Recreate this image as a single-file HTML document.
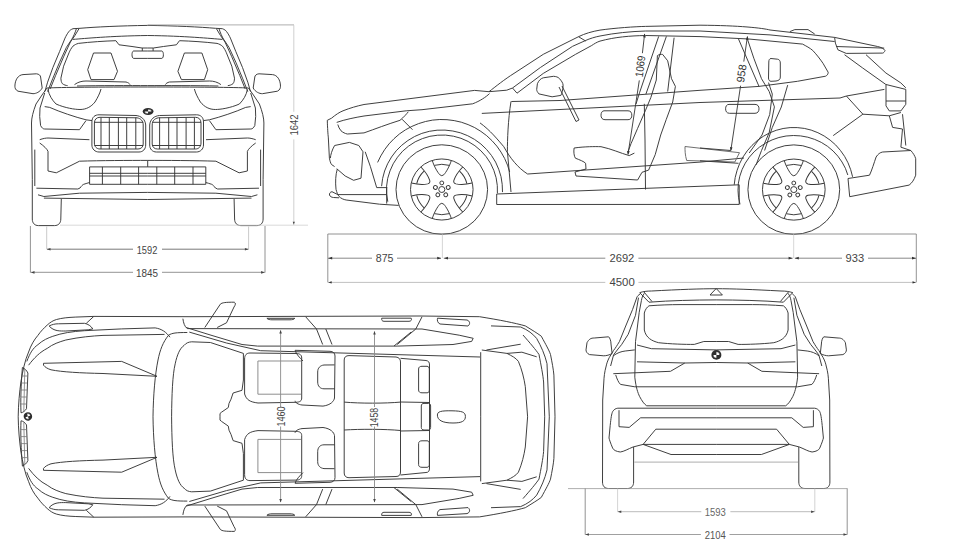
<!DOCTYPE html>
<html><head><meta charset="utf-8">
<style>
html,body{margin:0;padding:0;background:#fff;width:967px;height:546px;overflow:hidden}
svg{display:block}
text{font-family:"Liberation Sans",sans-serif;font-size:10.5px;fill:#444}
</style></head><body>
<svg width="967" height="546" viewBox="0 0 967 546">
<defs>
<g id="wheel" fill="none" stroke="#363636" stroke-width="0.95">
  <circle r="44.8"/>
  <circle r="30.6"/>
  <circle r="3"/>
  <g id="bolt"><circle cx="0" cy="-6.6" r="1.9"/></g>
  <use href="#bolt" transform="rotate(72)"/>
  <use href="#bolt" transform="rotate(144)"/>
  <use href="#bolt" transform="rotate(216)"/>
  <use href="#bolt" transform="rotate(288)"/>
  <g id="hole"><path d="M-9.3,-29 C-7.5,-23 -4,-17 -2,-14.8 Q0,-12.8 2,-14.8 C4,-17 7.5,-23 9.3,-29"/><path d="M-7.2,-24.2 Q0,-26.3 7.2,-24.2"/></g>
  <use href="#hole" transform="rotate(60)"/>
  <use href="#hole" transform="rotate(120)"/>
  <use href="#hole" transform="rotate(180)"/>
  <use href="#hole" transform="rotate(240)"/>
  <use href="#hole" transform="rotate(300)"/>
</g>
<g id="logo">
  <circle r="5" fill="#2e2e2e"/>
  <path d="M0,0 L0,-3.2 A3.2,3.2 0 0 1 3.2,0 Z M0,0 L0,3.2 A3.2,3.2 0 0 1 -3.2,0 Z" fill="#fff"/>
  <circle r="3.3" fill="none" stroke="#2e2e2e" stroke-width="0.5"/>
</g>
</defs>

<!-- FRONT VIEW left half -->
<g id="fl" fill="none" stroke="#363636" stroke-width="0.95" stroke-linejoin="round">
  <path d="M147.7,25.4 C120,25.8 95,27 80,28.3 L73,28.7 C71,29.5 69.5,30.5 69,31.4 C67,34 66,36 65,38.1 L59.6,51.5 L52.9,67.5 L47.6,82.2 L44.9,91.6"/>
  <path d="M79,28.7 C77.5,31 76.5,33 75,35.4 L70.4,42 L63.6,56.8 L55.6,75.5 L50.2,88.9"/>
  <path d="M76.4,28.7 C75,33 73.5,36.5 71.7,39.4 L66.4,47.4 L59.6,62.2 L52.9,78.2 L47.6,91.6"/>
  <path d="M73,39.4 C85,38.5 110,36 147.7,35.5"/>
  <path d="M78.4,43.4 C76,44 74.5,45 73,46.1 C71,48.5 70,50.5 69,52.8 L63.6,66.2 L60.9,78.2 C61,81 61.5,82.5 62.3,83.6 C64,85 66,85.5 67.6,85.6"/>
  <path d="M78.4,43.4 C90,42 105,41 115.9,40.7 L119,44.8 L132,46.5 L142,48 L147.7,48"/>
  <path d="M77,86 C100,85.5 130,85.6 147.7,85.6"/>
  <path d="M133.5,51 L147.7,51 M133.5,51 C131.5,51.5 131.5,58 133.5,58.4 L147.7,58.4 M142.3,48 V51"/>
  <path d="M93.5,53 L111,53 L117.5,71.3 L114,79.6 L91,79.6 L87.7,69.7 Z"/>
  <path d="M74.5,84.6 C78,82 82,81 86,81 L126,82 C128,82.5 129.5,83.5 130,84.6"/>
  <path d="M47,88 C60,87.3 100,87 147.7,87"/>
  <path d="M14.9,86.2 C15,80 18,75 23,74.6 L36.4,73.8 C39,74 40.5,75.5 40.6,77 L42.2,88 C40,92 36,93.7 33,93.7 L18,91.2 C15.5,90 14.9,88 14.9,86.2 Z"/>
  <path d="M48,89.5 C49,95 52,100 56,104 C65,108 75,109.5 80,109.5 C86,109.5 91,107 95,102 C98,97 100,93 101,89"/>
  <path d="M44.7,106.6 L49.7,107.4 C60,112 75,117 86,119.8 L92,120.6"/>
  <path d="M39.7,116.5 L40.6,125.6 C42,128 43,129 44.7,129 L79.5,129.7 L86,120.6"/>
  <path d="M47,88 L42,95 L36,104 C33,112 31.5,118 31.5,123 L32.3,179.4 L32.3,219 C32.3,223 34.5,225.6 38.5,225.6 L54.5,225.6 C58.5,225.6 60.8,223 60.8,219 L61.3,199"/>
  <path d="M44.7,93 L40,108 L39.7,116.5"/>
  <path d="M34.8,149.6 L34.8,186"/>
  <path d="M39.7,139.7 C43,138.5 46,138 48,138 L89.4,139.7"/>
  <path d="M39.7,143 C44,146 47,149 48,151.3 L48,171 L56.3,172.8 L79.5,161.2 C100,160.5 130,160.4 147.7,160.4"/>
  <path d="M36.4,188.2 L77.8,189 L80,188 C81.5,186 82.5,184.8 83.7,184.3 C86,183.5 88,183 89.6,182.5"/>
  <path d="M38,194.8 L43.9,196.5 L79.5,193.2 L147.7,192.4"/>
  <path d="M43.9,198.1 L147.7,199.5"/>
  <path d="M99,114.8 L136,115.5 C141,116 145.2,119 145.7,125 L145.7,145 C145.7,149 143,152 139,152 L99,152 C95,152 91.9,149 91.9,145 L91.9,122 C91.9,117 95,114.8 99,114.8 Z"/>
  <path d="M100,117.3 L137,117.8 C141,118.5 143.2,121 143.2,125 L143.2,144 C143.2,147 141,149 138,149 L100,149 C96.5,149 94.4,146.5 94.4,143 L94.4,123 C94.4,119.5 96.5,117.3 100,117.3 Z"/>
  <path d="M101,117.5 V149 M109.3,117.5 V149 M118.4,117.5 V149 M126.7,117.5 V149 M135.8,117.5 V149 M94.4,122.3 H143.2 M94.4,145.5 H143.2"/>
  <path d="M89.6,166.9 H147.7 M89.6,173.3 H147.7 M89.6,176 H147.7 M89.6,184.3 H147.7 M89.6,166.9 V184.3 M102.4,166.9 V184.3 M120.7,166.9 V184.3 M138.6,166.9 V184.3"/>
</g>
<use href="#fl" transform="matrix(-1 0 0 1 295.4 0)"/>
<use href="#logo" transform="translate(148.1,111.5) scale(1.08,0.68)"/>
<path d="M147.7,160.4 V166.9" stroke="#363636" stroke-width="0.95"/>

<!-- front dims -->
<g fill="none" stroke-width="0.8">
  <path d="M60,225.2 H308" stroke="#d0d0d0"/>
  <path d="M147.7,24.9 H294" stroke="#999"/>
  <path d="M293.8,25.2 V111.8 M293.8,139.4 V225" stroke="#c4c4c4"/>
  <path d="M30.4,226 V272.6 M265,226 V272.6" stroke="#777"/>
  <path d="M46.7,226.5 V249.3 M248.6,226.5 V249.3" stroke="#bbb"/>
  <path d="M47,249.2 H133 M162,249.2 H248.4" stroke="#555"/>
  <path d="M30.6,272.3 H133 M162,272.3 H264.8" stroke="#777"/>
</g>
<g fill="#444">
  <path d="M293.8,224.5 l-1.1,-2.8 h2.2z"/>
  <path d="M47,249.3 l3.5,-1.3 v2.6z M248.4,249.3 l-3.5,-1.3 v2.6z"/>
  <path d="M31,272.4 l3.5,-1.3 v2.6z M264.6,272.4 l-3.5,-1.3 v2.6z"/>
</g>
<text lengthAdjust="spacingAndGlyphs" x="147" y="253.6" text-anchor="middle" textLength="20.6" style="font-size:11.6px">1592</text>
<text lengthAdjust="spacingAndGlyphs" x="147" y="276.7" text-anchor="middle" textLength="22" style="font-size:11.6px">1845</text>
<text lengthAdjust="spacingAndGlyphs" transform="translate(297.8,125) rotate(-90)" text-anchor="middle" textLength="21.1" style="font-size:10.2px">1642</text>

<!-- SIDE VIEW -->
<g fill="none" stroke="#363636" stroke-width="0.95" stroke-linejoin="round">
  <path d="M489,91.7 C495,87 505,79 514,73.4 L543.3,54.3 L578.5,36.7 C585,33.5 592,31.5 600,30.1 C615,28 635,26.6 645.6,26.4 L700,25.2 C740,25.5 762,28 770,30 L834.6,37.4 L877.6,46.5 C881,47.3 884,48.5 885,50.6 C884.5,52 883.5,53 882.6,53.1 L846.2,53.4 L837.9,49.8 L835.4,43.1 L834.6,37.4 M836.2,46.5 L884.2,48.1"/>
  <path d="M512.5,88 L540.4,67.5 L572.6,46.3 L585.8,40.4 C590,38.5 595,37 600,36 C615,33 630,31.5 645.6,31 L700,31 L770,34.9 L834.6,41.5"/>
  <path d="M517,93.2 L543.3,73.4 L575.6,54.3 L591.7,45.5 C594,44 597,42 600,41.1 C615,37 630,35.8 645.6,35.5 L700,36.6 L748.7,39 L802.6,44.1 C806,46 810,48 812.8,50.5 C817,55 820,59 823,63.3 L828.2,72.3 C828,74.5 827,75.5 825.6,76.2 L797.4,81.3 L759,86.4"/>
  <path d="M578.5,36.7 L585.8,41.1 M489,91.7 L506.7,90.2 L512.5,88 L517,93.2 M789.9,31.6 L794.8,29.6 L808,29.6 L814.7,34"/>
  <path d="M560,100.5 L700,90.3 L759,86.4 M511.4,101.5 L560,100.5"/>
  <path d="M481.8,113.4 L560,109.5 L700,102.5 L840,98 L846.4,96 L884.4,89.4"/>
  <path d="M327.3,120.3 L331.5,118.2 C336,114.5 339,112.5 343,110.8 C350,108 357,106 364,104.5 L422,97.1 L474.6,90.4 L489,91.7"/>
  <path d="M336.7,122.4 C345,119.5 355,117.5 364,116 L406.2,110.8 L422,109.7 L472.7,103.8 C480,101 486,97 489.5,93.6"/>
  <path d="M337.8,124.5 C338.5,127 339.5,129 341,130.8 C343,132.5 345,133.5 347.3,134 L364,132.9 C375,129 388,124 400,120.3 C404,117 406.5,114 408.3,111.8"/>
  <path d="M402,119.2 L412.5,129.7"/>
  <path d="M327.3,120.3 C327.5,128 328,135 328.3,137.1 L329.4,158.2 C330,161 330.5,163 331.5,164.5 L334.6,166.6 M334.6,145.5 C332,150 330.5,155 330.4,158.2"/>
  <path d="M334.6,145.5 L349.4,142.4 L358.8,145.5 L363,151.8 L361,178.2 L353.6,180.3 L345.2,176 L336.7,168.7"/>
  <path d="M332,191.7 C330,192 329.3,193.5 329.5,195 C330,196.5 331.5,197.3 333.5,197.5 L339,197.8 M332,191.7 C334,192.5 336,194 337.9,194.6 L386.7,194.6 M337.3,169 C335.5,175 335.3,182 336,189.3 C336.8,192.5 337.8,194.8 339,196.4 C341,198.5 343.5,199.5 346.2,200 L379.5,204.2 L398.6,205.4 M386.7,188.1 L386.7,203.6"/>
  <path d="M365.2,151.8 L370.4,166.6 L376.7,187.6 L387.3,187.6"/>
  <path d="M537.4,83.7 C539,80 541,78.5 543.3,77.8 L553.6,76.3 C556,76.5 558,77 559.4,78.5 C561.5,81 563,83 563.1,85.1 C563,90 562,93 560.9,95.4 L552.1,96.8 L538.9,93.9 C537.5,92 536.7,91 536.7,89.5 Z"/>
  <path d="M559,87 L576,121.5 L579,120 L562,86"/>
  <path d="M511,101.4 C508,120 507.4,140 507.4,151.4 L511,192"/>
  <path d="M480,122.9 C490,130 498,140 503.8,146.7 C510,158 518,168 527.6,174 L700,162.1 L744,158"/>
  <path d="M496.7,194 L739.2,184.8 M496.7,204.5 L739.2,204.4 M496.7,194 V204.5 M739.2,184.8 V204.4"/>
  <path d="M604,110.8 L628,110.8 C631,110.8 631.8,113 631.8,115.2 C631.8,117.5 631,119.7 628,119.7 L605,119.7 C602,119.7 601,117.5 601,115.2 C601,113 602,110.8 604,110.8 Z"/>
  <path d="M729,104.4 L755,104.4 C758,104.4 759,106.5 759,108.8 C759,111 758,113.3 755,113.3 L729.5,113.3 C726.5,113.3 725.6,111 725.6,108.8 C725.6,106.5 726.5,104.4 729,104.4 Z"/>
  <path d="M658.7,36.4 L639.5,92.8 L636,104 M666.4,36.4 L645.9,94.1 M644.3,103.8 L645,140 L645.5,189.5 M674.1,37.7 L667.7,91.5"/>
  <path d="M657.4,55.6 C659,54.5 661,54.2 662.6,54.4 L667.7,60.8 L671.5,78.7 L675.4,86.4 L672.7,102 L666.2,119.6 L660.7,135 L655.2,154.7 L648.6,170.1"/>
  <path d="M657.4,55.6 L656.3,80 L650.8,97.6 L645.3,110.8 L637.6,128.4 L631,143.7 L627.7,152.5"/>
  <path d="M574.1,148 C585,146.5 595,146.5 601,146.7 C612,149 620,153 629.2,155.6 L634.4,153.1 M574.1,148 C573.5,152 574,156 575.4,158.2 C580,160 584,161.5 585.6,163.3 L586,169 L575,172 L576,176 L637.6,180 L642,172.3 L648.6,170.1"/>
  <path d="M747.4,39 L753.8,58.2 L761.5,78.7 L769.2,91.5 L774.4,106.9 L769.2,132.6 L761.5,150.5 L756,165 M738.5,39 L759,86.4"/>
  <path d="M771,58.5 L777.5,59.2 C779.5,59.5 780.3,61 780.3,63 L780.3,77 C780.3,79.5 779,80.5 776,81 L771,81.3 C769.5,81.3 768.5,80 768.5,78 L768.8,62 C768.8,60 769.5,58.5 771,58.5 Z"/>
  <path d="M768.5,82.6 L772.3,94.1 L769.7,114.6 L762,135 L749.2,153 M787.7,85.1 L781.3,107 L772.3,127.4 L764.6,150.5"/>
  <path d="M685,146.5 L739.5,152.7 L734.8,162 L686.7,160.5 C685,155 685,150 685,146.5" stroke="#666"/>
  <path d="M700,148 L730.8,150.5 M700,160.8 L738.5,163.3"/>
  <path d="M844.5,54.7 L862.7,68 L885.9,84.5 M866,54.7 L885.9,73 L900.8,82.9 L905.8,87.8"/>
  <path d="M886,84.5 L905.8,89.4 L905.8,104.3 L900.9,110.9 L889.3,110.9 L886,105.9 Z M886,101 L905.8,101"/>
  <path d="M846.4,96 L862.9,114.2 L889.3,115.8 L900.9,112.5 M862.9,114.2 L833.2,135.6"/>
  <path d="M889.3,115.8 L892.6,127.4 L902.5,129 L900.9,147.2 M902.5,114.2 L905.8,145.5"/>
  <path d="M900.9,147.2 L910.8,150.5 C913,153 915,156 915.7,158.7 L915.7,175.2 C914,180 912,183 909.1,185.1 L849.7,196.7 L848,178.5 L869.5,175.2 C872,170 874,163 876.1,157 C878,154 880,152.5 882.7,152 L910.8,150.5"/>
</g>
<g fill="none" stroke="#363636" stroke-width="0.95">
  <path d="M377.6,162.4 L380.8,155.9 L384.6,149.7 L389.0,143.9 L394.0,138.7 L399.5,133.9 L405.5,129.8 L411.9,126.4 L418.6,123.6 L425.5,121.5 L432.6,120.1 L439.8,119.5 L447.0,119.7 L454.2,120.6 L461.3,122.2 L468.1,124.6 L474.7,127.6 L480.9,131.4 L486.7,135.7 L492.0,140.7 L496.8,146.1 L501.0,152.1 L504.6,158.4 L507.5,165.1 L509.7,172.0"/>
  <path d="M381.6,186.2 L382.6,178.5 L384.6,171.0 L387.6,163.8 L391.5,157.0 L396.2,150.8 L401.7,145.3 L407.9,140.5 L414.6,136.5 L421.8,133.4 L429.4,131.3 L437.1,130.2 L445.0,130.1 L452.8,131.0 L460.4,132.8 L467.7,135.7 L474.5,139.4 L480.9,144.0 L486.5,149.4 L491.5,155.5 L495.6,162.1 L498.7,169.2 L501.0,176.6 L502.2,184.3 L502.5,192.1"/>
  <path d="M387.8,201.7 L386.6,194.0 L386.6,186.1 L387.7,178.4 L390.0,170.9 L393.2,163.8 L397.5,157.2 L402.6,151.2 L408.6,146.1 L415.2,141.8 L422.4,138.6 L429.9,136.3 L437.7,135.2 L445.6,135.1 L453.4,136.2 L461.0,138.3 L468.2,141.5 L474.9,145.7 L480.9,150.8 L486.1,156.6 L490.5,163.2 L493.8,170.3 L496.1,177.7 L497.3,185.5 L497.4,193.3"/>
  <path d="M734.2,184.8 L735.2,177.5 L737.1,170.3 L739.7,163.4 L743.1,156.9 L747.2,150.9 L752.0,145.4 L757.3,140.5 L763.2,136.4 L769.5,132.9 L776.2,130.3 L783.1,128.5 L790.1,127.6 L797.2,127.6 L804.3,128.4 L811.2,130.1 L817.9,132.7 L824.2,136.0 L830.1,140.1 L835.6,144.9 L840.4,150.4 L844.6,156.4 L848.0,162.8 L850.7,169.7 L852.6,176.8"/>
  <path d="M740.0,204.3 L738.5,197.3 L738.0,190.3 L738.4,183.2 L739.8,176.2 L742.1,169.5 L745.3,163.1 L749.3,157.2 L754.1,151.8 L759.5,147.1 L765.6,143.1 L772.1,139.9 L778.9,137.5 L786.1,136.0 L793.4,135.5 L800.6,135.9 L807.8,137.2 L814.7,139.4 L821.3,142.4 L827.5,146.3 L833.0,150.9 L837.9,156.2 L842.0,162.0 L845.4,168.3 L847.8,175.0"/>
</g>
<use href="#wheel" transform="translate(441.8,189.5) scale(1.022,0.998)"/>
<use href="#wheel" transform="translate(793.8,189.6) scale(1.024,0.998)"/>

<!-- side interior dims -->
<g fill="none" stroke="#333" stroke-width="0.9">
  <path d="M644.6,34 L642.4,53.2 M639.3,80.4 L628,154.4"/>
  <path d="M747.4,36.6 L743.8,61.6 M740.6,85.7 L730.8,150.5"/>
</g>
<path d="M644.7,33.5 l-1.6,3.8 l2.7,0.3z M628,154.8 l-0.9,-3.9 l2.7,0.3z M747.5,36 l-1.6,3.8 l2.7,0.3z M730.8,151 l-0.9,-3.9 l2.7,0.3z" fill="#333"/>
<text lengthAdjust="spacingAndGlyphs" transform="translate(644.1,66.8) rotate(-83.2)" text-anchor="middle" textLength="21.4" style="font-size:11px;fill:#333">1069</text>
<text lengthAdjust="spacingAndGlyphs" transform="translate(745.2,74) rotate(-82)" text-anchor="middle" textLength="18.3" style="font-size:11px;fill:#333">958</text>

<!-- side dims -->
<g fill="none" stroke-width="0.8">
  <path d="M327.8,234 H916.3" stroke="#777"/>
  <path d="M327.8,234 V282.4 M916.3,234 V282.4" stroke="#777"/>
  <path d="M442.4,234.3 V258 M793.7,234.3 V258" stroke="#ccc"/>
  <path d="M328,282.4 H605.3 M638.4,282.4 H916" stroke="#b0b0b0"/>
</g>
<g fill="none" stroke="#6a6a6a" stroke-width="0.8">
  <path d="M328,258.2 H372 M397,258.2 H441 M443.8,258.2 H605.3 M638.4,258.2 H792.6 M794.8,258.2 H842 M868,258.2 H916"/>
</g>
<g fill="#333">
  <path d="M328.2,258.2 l4,-1.4 v2.8z M441.2,258.2 l-4,-1.4 v2.8z M444,258.2 l4,-1.4 v2.8z M792.6,258.2 l-4,-1.4 v2.8z M794.8,258.2 l4,-1.4 v2.8z M916,258.2 l-4,-1.4 v2.8z M328.2,282.4 l3.5,-1.2 v2.4z M916,282.4 l-3.5,-1.2 v2.4z"/>
</g>
<text lengthAdjust="spacingAndGlyphs" x="384.6" y="262.2" text-anchor="middle" textLength="17.7" style="font-size:11.2px">875</text>
<text lengthAdjust="spacingAndGlyphs" x="621.9" y="262.1" text-anchor="middle" textLength="24.8" style="font-size:11.2px">2692</text>
<text lengthAdjust="spacingAndGlyphs" x="854.9" y="262" text-anchor="middle" textLength="18.6" style="font-size:11.2px">933</text>
<text lengthAdjust="spacingAndGlyphs" x="622.1" y="286.4" text-anchor="middle" textLength="25.3" style="font-size:11.4px">4500</text>

<!-- TOP VIEW top half -->
<g id="tt" fill="none" stroke="#363636" stroke-width="0.95" stroke-linejoin="round">
  <path d="M18.2,416.8 C18.3,405 19.5,392 21,381.2 C22.5,372 25,360 28.6,352 C31,345 34,340 37.9,335.4 C41,331 44,328 47.2,325.1 C50,322.5 53,320.5 56.5,319.5 C62,318 68,317.4 75.2,317.1 L93.8,316.4 L190,316.7 L420,316 L479.5,316.7 C500,320 515,323 525.3,325.9 C532,330 537,333 541.3,336.2 C546,345 549,350 550.5,354.5 C552,362 553.5,370 553.9,375.1 L555,416.8"/>
  <path d="M49.1,326 C52,324.5 55,323.8 58.4,323.8 L84.5,323.3 C88,324 91,326 92.8,328.9 L88.2,329.8 L65.8,331 C60,331 54,331.5 49.1,326 Z M93.8,316.4 L86.3,323.3"/>
  <path d="M26.8,361.4 C30,353 33,348 37.9,344.7 C43,340 48,338 52.8,336.3 C62,333 72,331.5 84.5,330.7 L121.7,328.9 L155.2,327.9 C162,329 166,332 170,337.2"/>
  <path d="M28.6,365.2 C34,358 40,352 47.2,348.4 C53,344 59,342 65.8,340 C80,337 92,336 103,335.4 L164.5,334.4"/>
  <path d="M43.5,363.3 L121.7,361.4 L157,376.3 M43.5,365.2 C45,367 47,368.5 51,369.8 C62,372 80,373 103,373.5 L157,376.3 M43.5,363.3 L43.5,365.2"/>
  <path d="M22.4,367.5 C24.5,368.5 26.5,370 27.9,373 L26.5,408.7 C25,411 23,412.5 21,412.8 C20.5,400 21,385 22.4,367.5 Z"/>
  <path d="M21.5,376 H27.6 M21.2,383 H27.3 M21,390 H27 M21,397 H26.9 M21,404 H26.7 M24.8,369 L23.8,411" stroke="#777" stroke-width="0.8"/>
  <path d="M153,416.8 C153.3,395 155,375 158,360 C160,350 163,342 168.6,335.2 C172,333 176,332.5 187.3,332.5"/>
  <path d="M171.6,416.8 C171.8,395 172.5,375 175.2,363.8 C177,355 180,348 184,345.5 C186,343 188.5,342 191.7,341.8 L210.4,342.5 L243.4,353.4 L243.4,380 L242,390.3 L233.1,393 L231,399.2 L229,403.4 L228.3,407.5 L221.4,412.3 L220,413.5 L220,416.8"/>
  <path d="M186.2,327.5 L211,335.2 L242,344.5 L257.6,346.1 L397.2,346.1 L453,344.5 L471.7,341.4 L473.2,338.3 L459.2,335.2 L422,329 L187.3,328.6 C184.5,326.5 183.5,323 182.9,318.7"/>
  <path d="M189.3,332.1 L226.5,343 L260.7,350.7 L480,357"/>
  <path d="M305.7,316.8 L316.5,329 L322.7,344.5 M325.8,329 L332,344.5 M422,316.8 L415.8,329 L397.2,344.5 M411.2,332 L394,346"/>
  <path d="M266.9,318.3 H294.8 M266.9,318.3 C268,319.5 270,319.8 272,319.8 H290 C292,319.8 294,319.5 294.8,318.3"/>
  <path d="M381.7,318.2 H411.2 C412,320 411,321.3 409,321.3 H384 C382,321.3 381.5,320 381.7,318.2"/>
  <path d="M437.5,318.2 L467,320 C470,321 470.5,324 468,326 L440,324 C437.5,323 437,320 437.5,318.2"/>
  <path d="M204.8,327.5 L220.3,304.2 C222,302.5 226,302.2 234.3,302.2 C236,303 235.5,305 234,307 L226.5,322.8 L217.2,327.5"/>
  <path d="M250,353 L296,353.5 C300,353.5 301.7,355 301.7,358 L301.7,398 C301.7,401 300,402 296,402.3 L258,403 C250,402 246.5,400 244.6,394 L244.6,359 C244.6,355 246.5,353 250,353 Z"/>
  <path d="M257.9,361 H301 M257.9,361 V394.2 H301" stroke="#888"/>
  <path d="M295.1,350.3 L330,351.3 C333,351.5 335,353 335,356 L334.5,398 C334,401 331,405 323,406.1 L302,405 C298,404.5 295.1,402.5 295.1,400.8 M295.1,350.3 C296,354 300,358 303,361"/>
  <path d="M334.5,364.9 L324,365 C320,365.5 317.7,368 317.7,372 L317.7,382 C317.7,386 320,388.8 324,388.8 L334.5,388.8"/>
  <path d="M480.7,352.2 V416.8"/>
  <path d="M491,325.9 L520.7,327 C528,330 533,334 536.7,338.5 C541,346 545,355 547,363.7 L549.3,416.8"/>
  <path d="M523,335 C530,343 536,350 539,354.5 C541,365 543,375 543.6,382 L544.7,416.8"/>
  <path d="M481.8,350 L507,353.4 C512,356 516,358 518.4,361.4 C522,370 524,378 525.3,386.6 L527.6,416.8"/>
  <path d="M486.4,350 L520.7,344.2 M507,353.4 L521.9,352.2 L536.7,356.8"/>
  <path d="M418.6,369 C418.6,367 420,366.3 422,366.3 L427,366.3 C428.5,366.3 429.3,367.5 429.3,369 L429.3,390 C429.3,392 428.5,392.8 427,392.8 L422,392.8 C420,392.8 418.6,392 418.6,390 Z"/>
</g>
<use href="#tt" transform="matrix(1 0 0 -1 0 833.6)"/>
<g fill="none" stroke="#363636" stroke-width="0.95">
  <path d="M349,355.6 L396,357 C399,357.5 400.5,359 400.5,362 L400.5,472 C400.5,475 399,476.5 396,476.5 L349,477.7 C346,477.7 344.2,476 344.2,473 L344.2,360 C344.2,357 346,355.6 349,355.6 Z"/>
  <path d="M344.2,402.1 C360,403.5 385,403.5 400.5,402.1 M344.2,430 C360,429 385,429 400.5,430.5"/>
  <path d="M400.5,358.3 L426,360.5 C428.5,361 429.5,362 429.5,365 L429.5,468 C429.5,471 428.5,472.5 426,472.5 L400.5,475 M400.5,402 L429.5,402.5 M400.5,431 L429.5,430.5"/>
  <path d="M421.3,406 C421.3,404 422.5,403.4 424,403.4 L428.5,403.4 C430,403.4 430.6,404.5 430.6,406 L430.6,427.5 C430.6,429 430,430 428.5,430 L424,430 C422.5,430 421.3,429 421.3,427.5 Z"/>
  <path d="M437.4,415 C437.4,411.5 441,410.6 452,410.8 C462,411 465.4,412 465.4,416.5 C465.4,421 462,423 453,423 C442,423 437.4,420 437.4,415 Z"/>
</g>
<use href="#logo" transform="translate(27.9,416.4) scale(0.85) rotate(-20)"/>
<path d="M280.6,330.5 V407 M280.6,426.5 V502 M374.5,331.6 V407 M374.5,426.5 V502" stroke="#8a8a8a" stroke-width="0.9" fill="none"/>
<path d="M280.6,330 l-1.3,3.5 h2.6z M280.6,502.5 l-1.3,-3.5 h2.6z M374.5,331 l-1.3,3.5 h2.6z M374.5,502.5 l-1.3,-3.5 h2.6z" fill="#444"/>
<text lengthAdjust="spacingAndGlyphs" transform="translate(285.3,416.5) rotate(-90)" text-anchor="middle" textLength="20.2" style="font-size:10.5px">1460</text>
<text lengthAdjust="spacingAndGlyphs" transform="translate(378,417.5) rotate(-90)" text-anchor="middle" textLength="19.5" style="font-size:10.5px">1458</text>

<!-- REAR VIEW left half -->
<g id="rl" fill="none" stroke="#363636" stroke-width="0.95" stroke-linejoin="round">
  <path d="M639.5,292.7 C643,291.5 647,291 651.4,291 C680,289.5 700,288.7 716.2,288.7"/>
  <path d="M649,302.2 C670,300.5 695,300 716.2,299.9"/>
  <path d="M640,293 L649,302.2 M644,292 L652,301.5"/>
  <path d="M640,294 C638.5,295 637.5,296 637,297 L632.6,309.4 L625.3,327 L619.4,341.6 C617,345.5 615.5,348 613.6,350.4 L609.2,357.7 C607.5,361 606.7,363.5 606.2,366 C604.5,372 604,377 603.8,382 L602.7,400 L602.5,482 C602.5,486 604.5,488.5 608.5,488.5 L627.5,488.5 C631.5,488.5 633.6,486 633.6,482 L633.6,447"/>
  <path d="M638.5,297.7 L635.5,315.3 L628.2,334.3 L621.6,344.6 L618,349 L613.6,354.8 L610.6,366"/>
  <path d="M644.3,293.3 C642.5,296 641.8,298 641.4,300.6 L639.2,312.4 L637,330 L635.5,341.6 L635,366 L634.8,377.2 C636,388 638,393 639.5,396.3 C642,401 644,404 646.7,405.8 L716.2,405.8"/>
  <path d="M649,305.8 C647,307 645,310 644.3,313 L644.3,330 C646,338 652,341 658.6,342.7 C670,344 685,344.5 694.3,344.4 L703.8,341.5 L716.2,341.5 M649,305.8 C660,305 670,304.6 680,304.6 L716.2,304.6"/>
  <path d="M637,345 L651.4,348.7 L716.2,349.9"/>
  <path d="M586,349.9 L587,342.7 C589,339 591,338 594.3,338 L608.6,336.8 C610,338 611,341 611,344 L612.1,353.4 C610,355 606,355.8 603.8,355.8 L589.5,354.6 C587,353.5 586,351.5 586,349.9 Z"/>
  <path d="M613.3,355.8 C617,353 621,351.5 625.2,351 L634.8,349.9 M637,361.8 L684.8,363 L716.2,362.5 M613.3,373.7 L670.5,371.3 L684.8,363"/>
  <path d="M615.7,374.9 C617,379 618.5,382.5 620.5,384.4 L634.8,386.8 L716.2,386.8"/>
  <path d="M643.1,444.4 L633,447 C628,449 624,451.5 620.3,452 C616,451.5 613.5,450 612.7,448.2 C610.5,443 609.5,440 609,438 L610.2,425.4 C611,418 611.5,414 612.7,411.5 C614,409.5 615.5,408.5 617.8,408.2 L716.2,408.2"/>
  <path d="M619,410.2 L619,426.7 L629.2,427.4 L640.6,417.8 L716.2,417.8"/>
  <path d="M655.8,429.2 L716.2,429.2 M655.8,429.2 L643.1,444.4 L716.2,444.4 M643.1,444.4 L671,454.5 L716.2,454.5"/>
</g>
<use href="#rl" transform="matrix(-1 0 0 1 1432.4 0)"/>
<path d="M710,295 L716.2,288.5 L722.4,295 Z" fill="none" stroke="#363636" stroke-width="0.95"/>
<use href="#logo" transform="translate(716.4,354.9) scale(1,0.98)"/>
<path d="M634.3,462.1 H798.1" stroke="#999" stroke-width="0.8"/>
<!-- rear dims -->
<g fill="none" stroke-width="0.8">
  <path d="M568,488.6 H847.5" stroke="#999"/>
  <path d="M585.2,488.6 V534.6 M847.2,488.6 V534.6" stroke="#777"/>
  <path d="M617.6,488.6 V511.7 M814.8,488.6 V511.7" stroke="#c8c8c8"/>
  <path d="M617.6,511.7 H701.3 M730.4,511.7 H814.8" stroke="#aaa"/>
  <path d="M585.2,534.5 H700.9 M729.5,534.5 H847.2" stroke="#888"/>
</g>
<g fill="#444">
  <path d="M617.8,511.7 l3.5,-1.2 v2.4z M814.6,511.7 l-3.5,-1.2 v2.4z M585.4,534.5 l3.5,-1.3 v2.6z M847,534.5 l-3.5,-1.3 v2.6z"/>
</g>
<text lengthAdjust="spacingAndGlyphs" x="715.2" y="515.6" text-anchor="middle" textLength="21.1" style="font-size:10.8px;fill:#666">1593</text>
<text lengthAdjust="spacingAndGlyphs" x="715.2" y="539.2" text-anchor="middle" textLength="21.1" style="font-size:11px;fill:#555">2104</text>
</svg>
</body></html>
